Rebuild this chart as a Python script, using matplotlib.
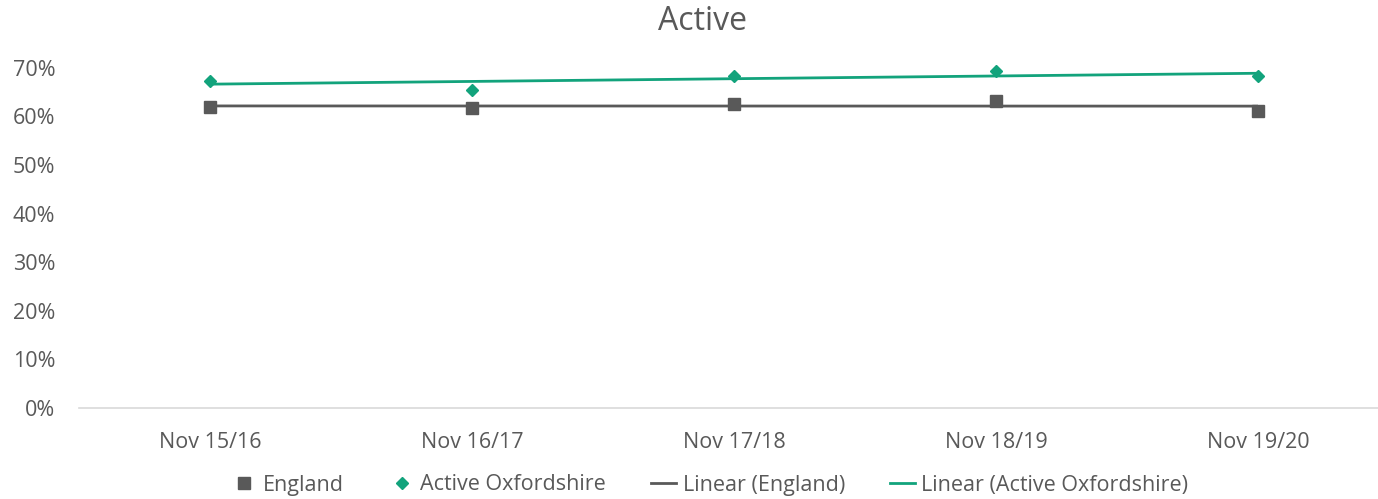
import numpy as np
import matplotlib.pyplot as plt
from matplotlib.lines import Line2D
from matplotlib.ticker import PercentFormatter

# Survey periods and activity rates
periods = ["Nov 15/16", "Nov 16/17", "Nov 17/18", "Nov 18/19", "Nov 19/20"]
england = [0.620, 0.617, 0.625, 0.632, 0.612]
oxfordshire = [0.673, 0.655, 0.684, 0.693, 0.682]

grey = "#595959"
green = "#12A37C"
text_col = "#595959"

plt.rcParams["font.family"] = ["Open Sans", "DejaVu Sans"]

fig = plt.figure(figsize=(13.78, 4.99), dpi=100)
W, H = 1378, 499
left, right, bottom, top = 79, 1378, 408, 58
ax = fig.add_axes([left / W, 1 - bottom / H, (right - left) / W, (bottom - top) / H])

x = np.arange(len(periods))

# linear trend lines (least squares, like a spreadsheet trendline)
for vals, col in [(england, grey), (oxfordshire, green)]:
    k, b = np.polyfit(x, vals, 1)
    ax.plot(x, k * x + b, color=col, lw=2.0, zorder=2, solid_capstyle="butt")

ax.plot(x, england, ls="none", marker="s", ms=8.5, color=grey, zorder=3, clip_on=False)
ax.plot(x, oxfordshire, ls="none", marker="D", ms=6.5, color=green, zorder=3, clip_on=False)

step = 262
ax.set_xlim(-0.5, (right - left) / step - 0.5)
ax.set_ylim(0, 0.72)
ax.set_yticks(np.arange(0, 0.71, 0.1))
ax.yaxis.set_major_formatter(PercentFormatter(1.0, decimals=0))
ax.set_xticks(x)
ax.set_xticklabels(periods)

for s in ["top", "right", "left"]:
    ax.spines[s].set_visible(False)
ax.spines["bottom"].set_color("#D9D9D9")
ax.spines["bottom"].set_linewidth(1.2)
ax.tick_params(axis="both", length=0, labelsize=15.5, colors=text_col)
ax.tick_params(axis="x", pad=17)
ax.tick_params(axis="y", pad=17)

fig.text(703 / W, 1 - 22 / H, "Active", ha="center", va="center", fontsize=23, color=text_col)

handles = [
    Line2D([], [], ls="none", marker="s", ms=8.5, color=grey),
    Line2D([], [], ls="none", marker="D", ms=6.5, color=green),
    Line2D([], [], color=grey, lw=2.0),
    Line2D([], [], color=green, lw=2.0),
]
labels = ["England", "Active Oxfordshire", "Linear (England)", "Linear (Active Oxfordshire)"]
leg = fig.legend(handles, labels, loc="center", bbox_to_anchor=(710 / W, 1 - 485 / H), ncol=4,
                 frameon=False, fontsize=15.5, handlelength=1.15, handletextpad=0.3,
                 columnspacing=2.1, labelcolor=text_col)

fig.savefig("out.png", dpi=100)
